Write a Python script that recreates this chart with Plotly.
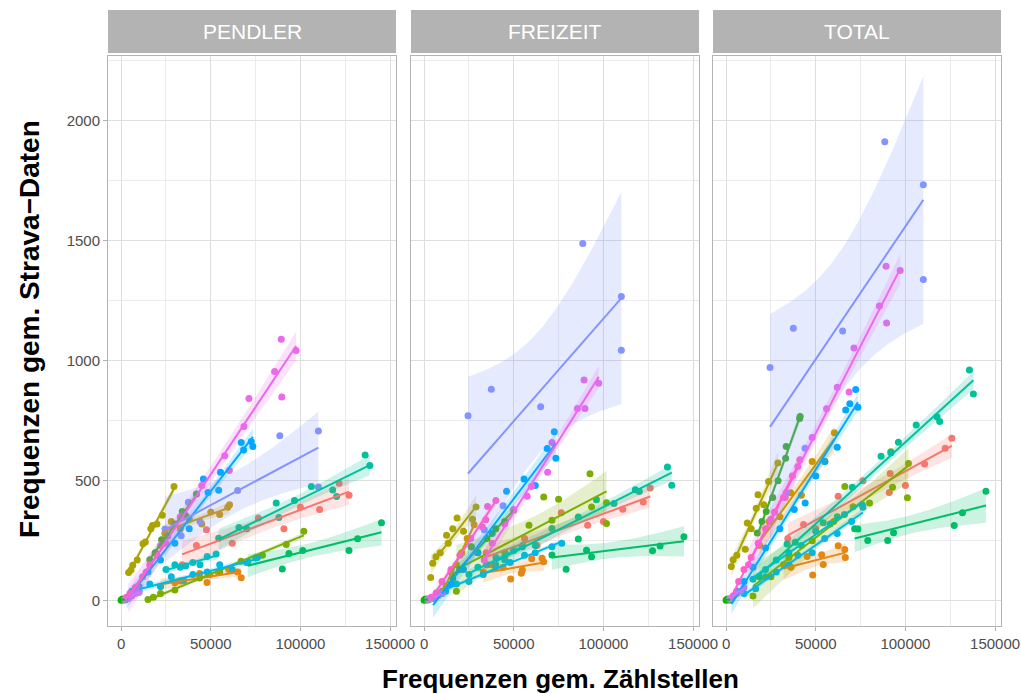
import numpy as np
import plotly.graph_objects as go

# ---------------- data ----------------
FACETS = ["PENDLER", "FREIZEIT", "TOTAL"]
GROUPS = ["red", "orange", "tan", "olive", "yellowgreen", "steepgreen", "origin", "flatgreen",
          "teal", "cyan", "cyanblue", "blue", "lavender", "violet", "magenta", "pink"]
COLORS = ["#F8766D", "#E68613", "#CD9600", "#ABA300", "#7CAE00", "#3DAE2B", "#0CB702", "#00BE67",
          "#00C19A", "#00BFC4", "#00B8E7", "#00A9FF", "#8494FF", "#C77CFF", "#ED68ED", "#FF61CC"]

X_TICKS = [0, 50000, 100000, 150000]
Y_TICKS = [0, 500, 1000, 1500, 2000]

pendler_x = {
    "red": [34000, 42000, 47600, 62000, 76500, 90800, 100000, 110700, 121600, 127100],
    "orange": [22000, 30000, 33000, 43800, 47900, 49400, 54300, 60000, 65000, 67000],
    "tan": [24400, 28000, 33000, 38000, 45000, 50000, 55000, 59500, 60500],
    "olive": [4200, 5500, 6500, 9000, 12200, 13500, 16600, 17500, 20000, 23000, 29500],
    "yellowgreen": [15000, 18000, 22000, 30000, 43800, 55000, 66900, 78800, 92100, 101900],
    "steepgreen": [16000, 19000, 22600, 26000, 30000, 34100, 36000, 42000],
    "origin": [0, 500, 1000, 1500, 2000, 2500],
    "flatgreen": [70600, 75200, 89900, 93600, 101300, 127100, 131900, 145200],
    "teal": [54400, 65700, 70000, 86500, 88000, 96700, 106100, 118000, 120200, 136100, 138700],
    "cyan": [25000, 30000, 33000, 36000, 40000, 44000, 48000, 53000],
    "cyanblue": [10000, 16000, 22000, 28000, 35000, 40000, 48000, 55000, 62000, 70000, 76000],
    "blue": [3000, 6000, 10000, 15000, 22000, 30000, 38000, 45900, 48500, 54400, 55400, 67000, 68300, 72600, 73500],
    "lavender": [24500, 33500, 37500, 44000, 65000, 88500, 110000, 110000],
    "violet": [2000, 4000, 6000, 8000, 10000],
    "magenta": [4000, 6000, 9000, 14000, 22000, 33000, 45000, 57800, 60400, 68500, 71300, 85600, 89300, 89600, 97600],
    "pink": [3000, 5000, 8000, 12000, 16000, 20000, 25000],
}
pendler_y = {
    "red": [150, 230, 296, 240, 345, 300, 390, 380, 490, 440],
    "orange": [60, 75, 83, 114, 76, 109, 118, 130, 120, 96],
    "tan": [280, 330, 300, 340, 320, 370, 360, 390, 400],
    "olive": [118, 128, 148, 170, 238, 245, 300, 314, 320, 356, 476],
    "yellowgreen": [5, 15, 30, 45, 95, 120, 165, 190, 235, 290],
    "steepgreen": [171, 200, 254, 270, 320, 372, 355, 445],
    "origin": [2, 6, 4, 8, 3, 5],
    "flatgreen": [162, 179, 132, 197, 210, 210, 259, 325],
    "teal": [261, 305, 300, 407, 347, 418, 476, 462, 435, 607, 564],
    "cyan": [130, 150, 140, 145, 160, 150, 185, 195],
    "cyanblue": [40, 70, 60, 100, 85, 110, 120, 150, 130, 160, 180],
    "blue": [10, 40, 60, 120, 170, 240, 300, 508, 451, 461, 536, 660, 628, 664, 643],
    "lavender": [299, 271, 411, 330, 460, 688, 708, 474],
    "violet": [5, 15, 20, 30, 35],
    "magenta": [10, 30, 60, 120, 230, 350, 480, 604, 543, 726, 843, 955, 1090, 849, 1043],
    "pink": [15, 30, 55, 100, 150, 190, 240],
}

freizeit_x = {
    "red": [34600, 45000, 56000, 63000, 76500, 91200, 100000, 110800, 122200, 126100],
    "orange": [33000, 38000, 44000, 48300, 54200, 54800, 60000, 65800, 66700],
    "tan": [10000, 12200, 15000, 18000, 21000, 24000, 27900],
    "olive": [3700, 4800, 6600, 9000, 12500, 13500, 16000, 18400, 22000, 27000, 29000],
    "yellowgreen": [18000, 26300, 35000, 45000, 58500, 66700, 71300, 75000, 92500, 93400, 101700, 101700],
    "steepgreen": [16000, 20000, 26300, 30000, 35000, 40000, 45000, 50000],
    "origin": [0, 500, 1000, 1500, 2000, 2500],
    "flatgreen": [71300, 79200, 86000, 90600, 93400, 127400, 131600, 144900],
    "teal": [40000, 54800, 62000, 71300, 86000, 96100, 105900, 117800, 120000, 135700, 138100],
    "cyan": [25000, 30000, 35000, 40000, 45000, 50000, 55000],
    "cyanblue": [12000, 18000, 25000, 33000, 40000, 48000, 56000, 62000, 71300, 76800],
    "blue": [5000, 10000, 15000, 22000, 30000, 38000, 46000, 55700, 62000, 68600, 72600, 73500],
    "lavender": [24500, 33500, 37500, 44000, 65000, 88500, 110000, 110000],
    "violet": [2000, 4000, 6000, 8000, 10000],
    "magenta": [33500, 38000, 45000, 50000, 57500, 59900, 68900, 71300, 85500, 89200, 89700, 97400],
    "pink": [4000, 6700, 10000, 15000, 20000, 26000, 32500, 34400, 35400, 40000],
}
freizeit_y = {
    "red": [200, 180, 260, 230, 367, 315, 330, 381, 412, 470],
    "orange": [120, 150, 140, 91, 115, 128, 175, 177, 163],
    "tan": [40, 60, 120, 150, 200, 260, 317],
    "olive": [97, 156, 184, 200, 273, 240, 300, 345, 290, 340, 391],
    "yellowgreen": [40, 225, 150, 200, 315, 432, 336, 423, 529, 391, 409, 322],
    "steepgreen": [94, 130, 225, 200, 260, 300, 330, 377],
    "origin": [2, 6, 4, 8, 3, 5],
    "flatgreen": [191, 131, 257, 211, 184, 209, 228, 267],
    "teal": [140, 225, 230, 301, 349, 421, 405, 463, 455, 557, 481],
    "cyan": [110, 140, 150, 180, 170, 210, 230],
    "cyanblue": [40, 70, 80, 110, 150, 160, 190, 200, 225, 240],
    "blue": [10, 30, 70, 130, 200, 280, 456, 508, 480, 635, 704, 594],
    "lavender": [771, 296, 881, 396, 809, 1489, 1268, 1044],
    "violet": [5, 10, 18, 22, 30],
    "magenta": [170, 240, 320, 380, 436, 476, 536, 660, 801, 920, 801, 906],
    "pink": [15, 32, 80, 130, 190, 260, 309, 338, 393, 418],
}

total_x = {
    "red": [34400, 43200, 50000, 62500, 76300, 91000, 91500, 100000, 110700, 122200, 125900],
    "orange": [32000, 36200, 45200, 48300, 53300, 54200, 62500, 66200, 66500],
    "tan": [18700, 24000, 30000, 36000, 42000, 48000, 55000, 60400],
    "olive": [2900, 3900, 6000, 10700, 11800, 14000, 16800, 17800, 21000, 23700, 28900],
    "yellowgreen": [15000, 25000, 35000, 48000, 60000, 66200, 70800, 80000, 91900, 92800, 101100, 101700],
    "steepgreen": [17400, 20000, 22400, 26000, 29000, 33200, 33500, 41000, 41300],
    "origin": [0, 500, 1000, 1500, 2000, 2500],
    "flatgreen": [71700, 73500, 79000, 90100, 93400, 127200, 131800, 144900],
    "teal": [18400, 34000, 38600, 54200, 62000, 70400, 86400, 91900, 96100, 106000, 117600, 119100, 135700, 137900],
    "cyan": [15000, 22000, 28000, 35000, 42000, 50000, 58000, 66000, 76000],
    "cyanblue": [10000, 16500, 22000, 28000, 35000, 40000, 48000, 55000, 62000, 70000, 76300],
    "blue": [3000, 6000, 10000, 15000, 22000, 30000, 38000, 44100, 50000, 55100, 62000, 66700, 69000, 72300, 73500],
    "lavender": [24500, 33500, 37500, 44000, 65000, 88500, 110000, 110000],
    "violet": [2000, 4000, 6000, 8000, 10000],
    "magenta": [12500, 18000, 25000, 33000, 40000, 48000, 56000, 62000, 68600, 71300, 85500, 89200, 89500, 97100],
    "pink": [4000, 7000, 10000, 14000, 18000, 22000, 27000, 32000, 37000, 41100],
}
total_y = {
    "red": [260, 318, 300, 436, 500, 451, 530, 480, 570, 636, 677],
    "orange": [150, 140, 185, 108, 192, 151, 229, 214, 180],
    "tan": [230, 330, 350, 450, 440, 580, 580, 700],
    "olive": [143, 171, 190, 215, 324, 300, 386, 442, 400, 497, 574],
    "yellowgreen": [20, 100, 180, 250, 330, 476, 392, 407, 621, 473, 429, 572],
    "steepgreen": [282, 330, 372, 430, 500, 594, 643, 760, 768],
    "origin": [2, 6, 4, 8, 3, 5],
    "flatgreen": [300, 299, 251, 251, 284, 314, 367, 456],
    "teal": [100, 237, 244, 325, 350, 473, 602, 617, 661, 732, 767, 747, 962, 862],
    "cyan": [90, 130, 170, 200, 230, 290, 320, 360, 400],
    "cyanblue": [30, 50, 100, 120, 150, 190, 200, 260, 280, 330, 390],
    "blue": [10, 40, 80, 140, 220, 300, 380, 407, 520, 580, 640, 795, 821, 880, 806],
    "lavender": [972, 450, 1136, 636, 1124, 1913, 1734, 1339],
    "violet": [8, 20, 30, 40, 55],
    "magenta": [150, 240, 340, 430, 560, 680, 800, 890, 870, 1053, 1228, 1394, 1158, 1376],
    "pink": [20, 80, 130, 180, 240, 300, 370, 430, 520, 588],
}

FACET_X = [pendler_x, freizeit_x, total_x]
FACET_Y = [pendler_y, freizeit_y, total_y]

# two-sided 95% t quantiles
T975 = {1: 12.706, 2: 4.303, 3: 3.182, 4: 2.776, 5: 2.571, 6: 2.447, 7: 2.365, 8: 2.306,
        9: 2.262, 10: 2.228, 11: 2.201, 12: 2.179, 13: 2.160, 14: 2.145, 15: 2.131,
        16: 2.120, 17: 2.110, 18: 2.101, 19: 2.093, 20: 2.086}


def lm_band(x, y, n_grid=80):
    x = np.asarray(x, float)
    y = np.asarray(y, float)
    n = len(x)
    b, a = np.polyfit(x, y, 1)
    xg = np.linspace(x.min(), x.max(), n_grid)
    yg = a + b * xg
    resid = y - (a + b * x)
    s = np.sqrt(np.sum(resid ** 2) / (n - 2))
    xm = x.mean()
    sxx = np.sum((x - xm) ** 2)
    se = s * np.sqrt(1.0 / n + (xg - xm) ** 2 / sxx)
    t = T975.get(n - 2, 2.0)
    return xg, yg, yg - t * se, yg + t * se


def rgba(hexc, a):
    h = hexc.lstrip("#")
    return "rgba(%d,%d,%d,%.3f)" % (int(h[0:2], 16), int(h[2:4], 16), int(h[4:6], 16), a)


fig = go.Figure()

for fi, facet in enumerate(FACETS):
    xa = "x" if fi == 0 else "x%d" % (fi + 1)
    ya = "y" if fi == 0 else "y%d" % (fi + 1)
    dx, dy = FACET_X[fi], FACET_Y[fi]
    for g, c in zip(GROUPS, COLORS):
        fig.add_trace(go.Scatter(x=dx[g], y=dy[g], mode="markers", xaxis=xa, yaxis=ya,
                                 marker=dict(color=c, size=7, line=dict(width=0)),
                                 hoverinfo="skip", showlegend=False))
    for g, c in zip(GROUPS, COLORS):
        xg, yg, lo, hi = lm_band(dx[g], dy[g])
        fig.add_trace(go.Scatter(x=np.concatenate([xg, xg[::-1]]), y=np.concatenate([hi, lo[::-1]]),
                                 fill="toself", fillcolor=rgba(c, 0.2), line=dict(width=0),
                                 mode="lines", xaxis=xa, yaxis=ya, hoverinfo="skip", showlegend=False))
        fig.add_trace(go.Scatter(x=xg, y=yg, mode="lines", line=dict(color=c, width=2),
                                 xaxis=xa, yaxis=ya, hoverinfo="skip", showlegend=False))

# the body margin is removed by the post script, so the figure fills the window
W, H = 1021, 694
PANELS = [(108, 396), (411, 699), (713, 1001)]
TOP, BOTTOM = 56, 626
STRIP_TOP, STRIP_BOTTOM = 10, 53
FONT = "Liberation Sans, Arial, sans-serif"


def fx(p):
    return p / W


def fy(p):
    return 1 - p / H


axis_common = dict(showgrid=True, gridcolor="#DEDEDE", gridwidth=1, zeroline=False,
                   showline=True, mirror=True, linecolor="#B3B3B3", linewidth=1,
                   tickfont=dict(family=FONT, size=15, color="#4D4D4D"))
layout = dict(width=W, height=H, margin=dict(l=0, r=0, t=0, b=0), template="none",
              paper_bgcolor="white", plot_bgcolor="white", showlegend=False,
              font=dict(family=FONT))
shapes, annotations = [], []
for i, (l, r) in enumerate(PANELS):
    xname = "xaxis" if i == 0 else "xaxis%d" % (i + 1)
    yname = "yaxis" if i == 0 else "yaxis%d" % (i + 1)
    layout[xname] = dict(axis_common, domain=[fx(l), fx(r)], range=[-7300, 153300],
                         tickvals=X_TICKS, ticktext=[str(v) for v in X_TICKS],
                         ticks="outside", ticklen=4, tickcolor="#B3B3B3",
                         minor=dict(tickvals=[25000, 75000, 125000], showgrid=True,
                                    gridcolor="#EBEBEB", gridwidth=0.6, ticks=""),
                         anchor="y" if i == 0 else "y%d" % (i + 1))
    layout[yname] = dict(axis_common, domain=[fy(BOTTOM), fy(TOP)], range=[-105, 2270],
                         tickvals=Y_TICKS, ticktext=[str(v) for v in Y_TICKS],
                         showticklabels=(i == 0), ticks="outside" if i == 0 else "",
                         ticklen=4, tickcolor="#B3B3B3",
                         minor=dict(tickvals=[250, 750, 1250, 1750, 2250], showgrid=True,
                                    gridcolor="#EBEBEB", gridwidth=0.6, ticks=""),
                         anchor="x" if i == 0 else "x%d" % (i + 1))
    shapes.append(dict(type="rect", xref="paper", yref="paper", x0=fx(l), x1=fx(r),
                       y0=fy(STRIP_BOTTOM), y1=fy(STRIP_TOP), fillcolor="#B3B3B3",
                       line=dict(width=0), layer="below"))
    annotations.append(dict(text=FACETS[i], xref="paper", yref="paper", x=fx((l + r) / 2),
                            y=fy((STRIP_TOP + STRIP_BOTTOM) / 2), showarrow=False,
                            font=dict(family=FONT, size=21, color="white"),
                            xanchor="center", yanchor="middle"))

annotations.append(dict(text="<b>Frequenzen gem. Zählstellen</b>", xref="paper", yref="paper",
                        x=fx(560), y=fy(679), showarrow=False,
                        font=dict(family=FONT, size=26, color="black"),
                        xanchor="center", yanchor="middle"))
annotations.append(dict(text="<b>Frequenzen gem. Strava\u2212Daten</b>", xref="paper", yref="paper",
                        x=fx(29), y=fy(329), showarrow=False, textangle=-90,
                        font=dict(family=FONT, size=28, color="black"),
                        xanchor="center", yanchor="middle"))
layout["shapes"] = shapes
layout["annotations"] = annotations
fig.update_layout(**layout)

fig.write_html("out.html", config={"displayModeBar": False},
               post_script="document.body.style.margin='0px';document.body.style.overflow='hidden';")
